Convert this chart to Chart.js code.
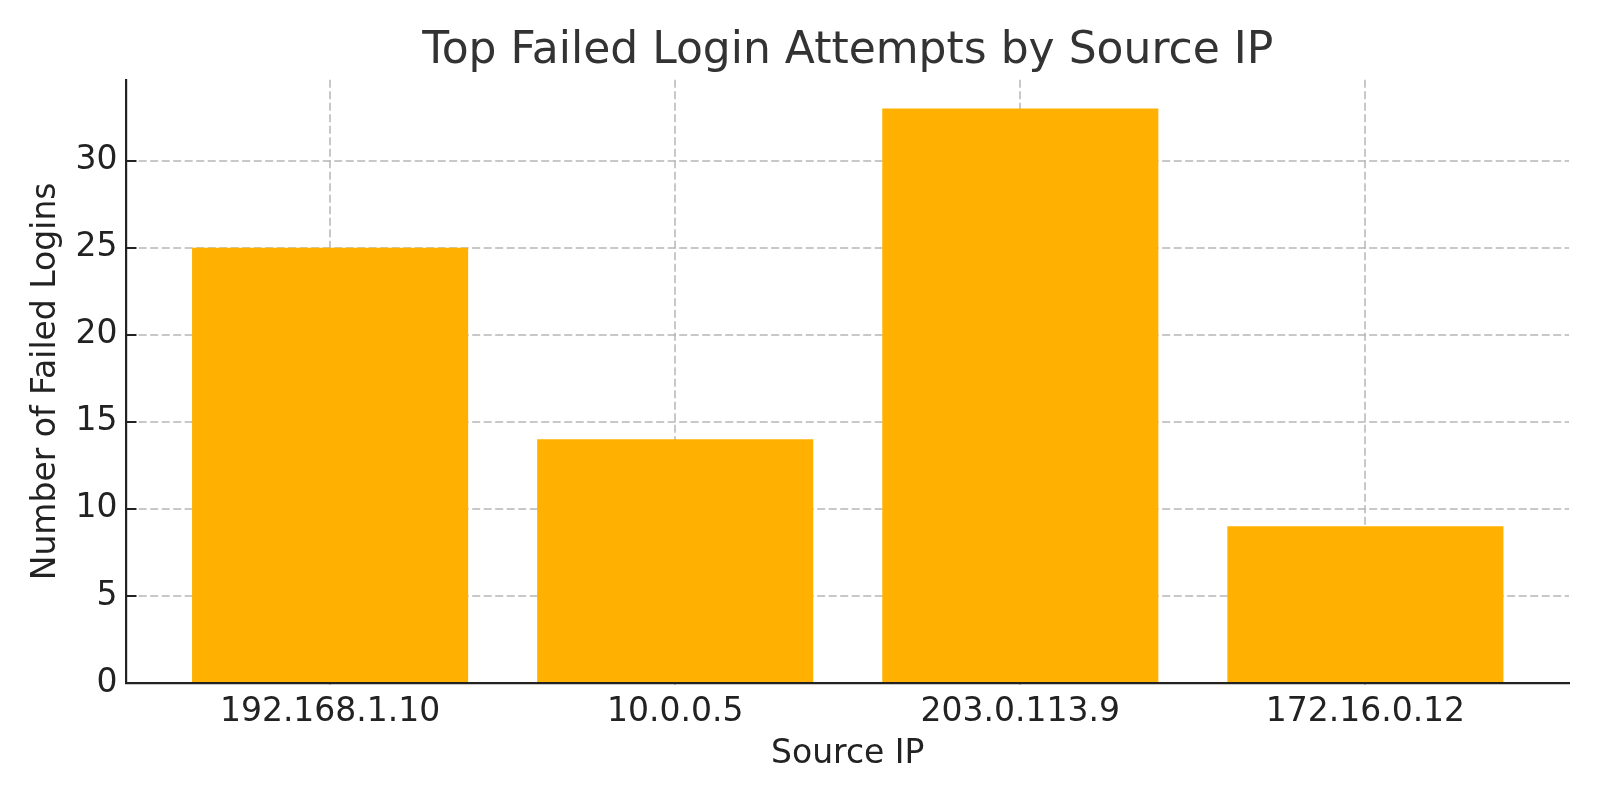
<!DOCTYPE html>
<html lang="en">
<head>
    <meta charset="UTF-8">
    <title>Top Failed Login Attempts by Source IP</title>
    <script src="https://cdn.jsdelivr.net/npm/chart.js@4.4.1/dist/chart.umd.min.js"></script>
    <style>
        body {
            margin: 0;
            padding: 0;
            background: #ffffff;
        }
        #wrap {
            width: 1600px;
            height: 800px;
        }
    </style>
</head>
<body>
    <div id="wrap">
        <canvas id="loginChart" width="1600" height="800"></canvas>
    </div>
    <script>
        // Data
        const sourceIps = ['192.168.1.10', '10.0.0.5', '203.0.113.9', '172.16.0.12'];
        const failedLogins = [25, 14, 33, 9];
        const yTickStep = 5;
        const yMax = 34.65;

        const gridColor = 'rgba(176, 176, 176, 0.7)';
        const inkColor = '#222222';
        const fontFamily = '"DejaVu Sans", Arial, sans-serif';

        const points = sourceIps.map((ip, i) => ({ x: i, y: failedLogins[i] }));

        const ctx = document.getElementById('loginChart').getContext('2d');
        const loginChart = new Chart(ctx, {
            type: 'bar',
            data: {
                datasets: [{
                    label: 'Failed Logins',
                    data: points,
                    backgroundColor: '#ffb000',
                    borderWidth: 0,
                    categoryPercentage: 1.0,
                    barPercentage: 0.8
                }]
            },
            options: {
                responsive: false,
                animation: false,
                layout: {
                    padding: { left: 0, right: 31, top: 0, bottom: 0 }
                },
                plugins: {
                    legend: { display: false },
                    tooltip: { enabled: false },
                    title: {
                        display: true,
                        fullSize: false, // centre over the plot area, not the canvas
                        text: 'Top Failed Login Attempts by Source IP',
                        color: '#333333',
                        font: { family: fontFamily, size: 44, weight: 'normal' },
                        padding: { top: 25, bottom: 2 }
                    }
                },
                scales: {
                    x: {
                        type: 'linear',
                        min: -0.59,
                        max: sourceIps.length - 1 + 0.59,
                        offset: false,
                        z: 1,
                        afterBuildTicks: (scale) => {
                            scale.ticks = sourceIps.map((_, i) => ({ value: i }));
                        },
                        afterFit: (scale) => {
                            scale.height = 117;
                        },
                        ticks: {
                            autoSkip: false,
                            maxRotation: 0,
                            padding: 20,
                            color: inkColor,
                            font: { family: fontFamily, size: 33 },
                            callback: (value) => sourceIps[value] ?? ''
                        },
                        grid: {
                            offset: false,
                            color: gridColor,
                            lineWidth: 2,
                            tickLength: -10,
                            tickColor: inkColor,
                            tickWidth: 2
                        },
                        border: {
                            display: true,
                            color: inkColor,
                            width: 2.2,
                            dash: [8, 3.5]
                        },
                        title: {
                            display: true,
                            text: 'Source IP',
                            color: inkColor,
                            font: { family: fontFamily, size: 33 },
                            padding: { top: 0, bottom: 26 }
                        }
                    },
                    y: {
                        min: 0,
                        max: yMax,
                        z: 1,
                        afterFit: (scale) => {
                            scale.width = 126.5;
                        },
                        ticks: {
                            stepSize: yTickStep,
                            includeBounds: false,
                            padding: 19,
                            color: inkColor,
                            font: { family: fontFamily, size: 33 }
                        },
                        grid: {
                            color: gridColor,
                            lineWidth: 2,
                            tickLength: -10,
                            tickColor: inkColor,
                            tickWidth: 2
                        },
                        border: {
                            display: true,
                            color: inkColor,
                            width: 2.2,
                            dash: [8, 3.5]
                        },
                        title: {
                            display: true,
                            text: 'Number of Failed Logins',
                            color: inkColor,
                            font: { family: fontFamily, size: 33 },
                            padding: { top: 27, bottom: 0 }
                        }
                    }
                }
            }
        });
    </script>
</body>
</html>
